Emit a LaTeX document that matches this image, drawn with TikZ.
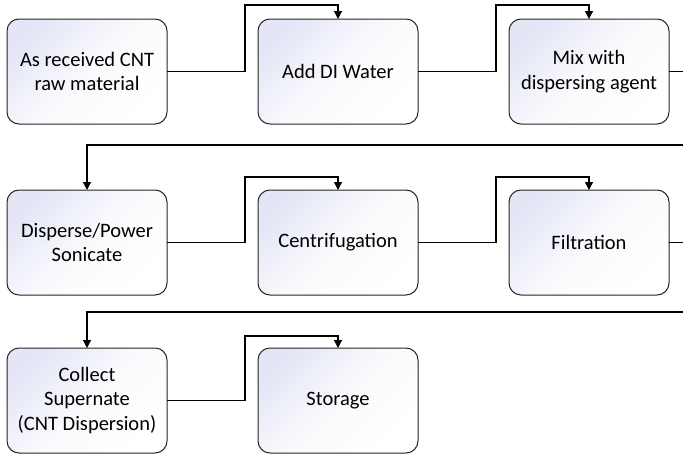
\documentclass[tikz,border=0pt]{standalone}
\usepackage{fontspec}
\setmainfont{Carlito}
\usetikzlibrary{calc}
\usetikzlibrary{positioning}
\usetikzlibrary{arrows.meta}

\definecolor{lavender}{RGB}{228,230,246}

\begin{document}
\begin{tikzpicture}
  [
  % node spacing
  every node/.style={outer sep=0, inner sep=0},
  % arrow
  arrow/.style={-{Triangle[length=8pt, width=8pt]}, line width=1.2pt},
  % process step
  block/.style={rectangle, rounded corners=12pt, draw=black!85,
  line width=1pt, minimum width=160pt, minimum height=105pt,
  align=center, top color=lavender, bottom color=white,
  middle color=lavender!20!white, shading angle=45,
  font=\fontsize{20.5}{24.5}\selectfont}
  ]
  \useasboundingbox (0,0) rectangle (683pt,-455pt);
  \clip (0,0) rectangle (683pt,-455pt);
  % first row
  \node [block] (raw) at (87pt,-71.5pt) {As received CNT\\raw material};
  \node [block, right=91pt of raw] (water) {Add DI Water};
  \node [block, right=91pt of water] (mix) {Mix with\\dispersing agent};
  % second row
  \node [block, below=66pt of raw] (sonic) {Disperse/Power\\Sonicate};
  \node [block, right=91pt of sonic] (centri) {Centrifugation};
  \node [block, right=91pt of centri] (filt) {Filtration};
  % third row
  \node [block, below=53pt of sonic] (collect)
  {Collect\\Supernate\\(CNT Dispersion)};
  \node [block, right=91pt of collect] (store) {Storage};
  % connectors
  \draw[arrow] (raw.east) -- +(78pt,0) |- ([yshift=14pt]water.north)
  -- (water.north);
  \draw[arrow] (water.east) -- +(78pt,0) |- ([yshift=14pt]mix.north)
  -- (mix.north);
  \draw[arrow] (mix.east) -- +(30pt,0) |- ([yshift=45pt]sonic.north)
  -- (sonic.north);
  \draw[arrow] (sonic.east) -- +(78pt,0) |- ([yshift=13pt]centri.north)
  -- (centri.north);
  \draw[arrow] (centri.east) -- +(78pt,0) |- ([yshift=13pt]filt.north)
  -- (filt.north);
  \draw[arrow] (filt.east) -- +(30pt,0) |- ([yshift=36pt]collect.north)
  -- (collect.north);
  \draw[arrow] (collect.east) -- +(78pt,0) |- ([yshift=12pt]store.north)
  -- (store.north);
\end{tikzpicture}
\end{document}
